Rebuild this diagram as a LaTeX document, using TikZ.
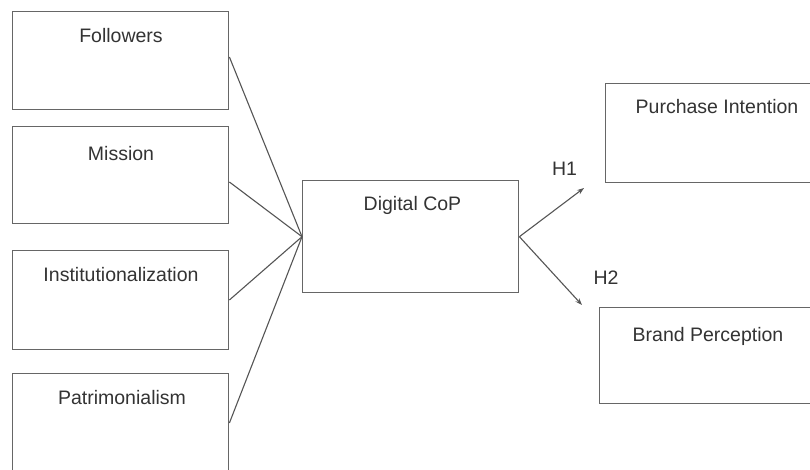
\documentclass[tikz,border=0pt]{standalone}
\usepackage{fontspec}
\setmainfont{Liberation Sans}
\usetikzlibrary{calc,arrows.meta}
\definecolor{boxline}{HTML}{666666}
\definecolor{conline}{HTML}{555555}
\definecolor{txt}{HTML}{333333}
\tikzset{
  box/.style={draw=boxline, line width=1.4pt, rectangle, inner sep=0pt, anchor=north west},
  lbl/.style={anchor=base, inner sep=0pt, text=txt, font=\fontsize{19.5}{22}\selectfont},
  conn/.style={draw=conline, line width=1.1pt},
  arr/.style={conn, -{Stealth[length=7pt,width=5pt]}}
}
\begin{document}
\begin{tikzpicture}[x=1pt,y=-1pt]
\useasboundingbox (0,0) rectangle (810,470);
\clip (0,0) rectangle (810,470);
\fill[white] (0,0) rectangle (810,470);
% left boxes
\node[box, minimum width=216pt, minimum height=98pt] (followers) at (12,11) {};
\node[box, minimum width=216pt, minimum height=97pt] (mission) at (12,126) {};
\node[box, minimum width=216pt, minimum height=99pt] (inst) at (12,250) {};
\node[box, minimum width=216pt, minimum height=100pt] (patri) at (12,373) {};
% centre box
\node[box, minimum width=216pt, minimum height=112pt] (dcop) at (302,180) {};
% right boxes
\node[box, minimum width=215pt, minimum height=99pt] (purch) at (605,83) {};
\node[box, minimum width=220pt, minimum height=96pt] (brand) at (599,307) {};
% labels
\node[lbl] (tfollowers) at (121,42.5) {Followers};
\node[lbl] (tmission) at (121,160.5) {Mission};
\node[lbl] (tinst) at (121,281) {Institutionalization};
\node[lbl] (tpatri) at (122,404) {Patrimonialism};
\node[lbl] (tdcop) at (412.5,211) {Digital CoP};
\node[lbl] (tpurch) at (717,114) {Purchase Intention};
\node[lbl] (tbrand) at (708,341.5) {Brand Perception};
\node[lbl] (h1) at (564.5,175.5) {H1};
\node[lbl] (h2) at (606,284) {H2};
% connector ends
\coordinate (hub) at (dcop.west);
\coordinate (f1) at ($(followers.north east)+(0,46)$);
\coordinate (m1) at ($(mission.north east)+(0,56)$);
\coordinate (i1) at ($(inst.north east)+(0,50)$);
\coordinate (p1) at ($(patri.north east)+(0,50)$);
\coordinate (tip1) at (584,188);
\coordinate (tip2) at (582,305);
\draw[conn] (f1) -- (hub);
\draw[conn] (m1) -- (hub);
\draw[conn] (i1) -- (hub);
\draw[conn] (p1) -- (hub);
\draw[arr] (dcop.east) -- (tip1);
\draw[arr] (dcop.east) -- (tip2);
\end{tikzpicture}
\end{document}
